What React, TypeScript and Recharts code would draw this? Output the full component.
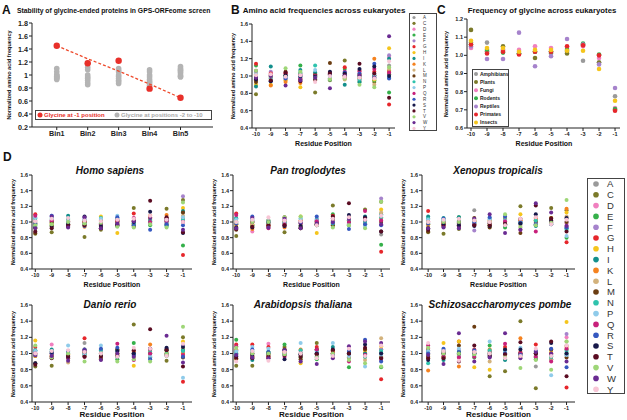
import { ScatterChart, Scatter, XAxis, YAxis } from 'recharts';

const FONT = '"Liberation Sans", Arial, sans-serif';

// residue positions and amino acids
const positions = [-10, -9, -8, -7, -6, -5, -4, -3, -2, -1];
const aminoAcids = ['A', 'C', 'D', 'E', 'F', 'G', 'H', 'I', 'K', 'L', 'M', 'N', 'P', 'Q', 'R', 'S', 'T', 'V', 'W', 'Y'];
const aaColors = ['#9a9a9a', '#7b7a2a', '#f07fbf', '#35b04a', '#a683cc', '#e6262b', '#f5c51c', '#138f8c', '#f5821f', '#d3b27c', '#6b3d12', '#2fc3ad', '#8fcbea', '#c8207b', '#3558c0', '#17184a', '#5a0c22', '#9ed677', '#6a2b92', '#f8c6d6'];

// panel A
const bins = ['Bin1', 'Bin2', 'Bin3', 'Bin4', 'Bin5'];
const glycineMinus1 = [1.45, 1.18, 1.22, 0.79, 0.65];
const glycineTrend = [1.45, 1.25, 1.06, 0.86, 0.65];
const glycineOther = [
  [1.1, 1.05, 1.0, 0.98, 0.96, 0.95, 0.93, 1.0, 0.97],
  [1.18, 1.12, 1.08, 1.0, 0.97, 0.95, 0.92, 0.88, 0.85],
  [1.1, 1.07, 1.05, 1.0, 0.98, 0.95, 0.92, 0.9, 0.87],
  [1.08, 1.05, 1.0, 0.97, 0.93, 0.9, 0.88, 0.85, 0.83],
  [1.13, 1.1, 1.08, 1.05, 1.03, 1.0, 0.98, 0.97, 1.07],
];

// panel B: rows follow aminoAcids, columns follow positions
const eukaryotes = [
  [1.05, 1.02, 1.0, 0.98, 1.03, 0.97, 1.0, 0.98, 1.0, 1.12],
  [0.79, 0.98, 1.0, 1.03, 0.81, 0.95, 1.18, 1.02, 0.93, 1.06],
  [1.0, 1.04, 0.98, 0.96, 1.02, 1.01, 0.97, 0.95, 0.99, 1.22],
  [1.12, 0.97, 1.01, 1.12, 0.99, 0.97, 1.08, 0.93, 0.95, 0.81],
  [0.96, 1.05, 0.96, 1.02, 0.97, 1.0, 1.02, 0.98, 0.97, 1.24],
  [1.14, 1.03, 1.03, 1.01, 1.02, 1.04, 1.1, 1.06, 1.05, 0.67],
  [0.9, 0.9, 0.95, 0.87, 1.0, 0.98, 0.99, 1.0, 0.96, 1.32],
  [0.88, 1.11, 0.99, 1.07, 1.04, 0.96, 0.9, 0.93, 0.98, 1.2],
  [0.95, 0.89, 0.93, 0.92, 0.98, 1.02, 0.98, 0.97, 1.2, 1.05],
  [1.02, 0.96, 1.01, 0.98, 0.95, 0.97, 0.96, 1.02, 0.9, 1.08],
  [0.93, 0.99, 1.05, 0.96, 1.01, 1.15, 1.0, 1.0, 1.01, 1.02],
  [0.99, 1.0, 1.0, 1.04, 1.12, 1.0, 1.03, 0.96, 1.0, 0.98],
  [1.04, 0.97, 0.98, 1.0, 1.07, 0.99, 1.01, 0.99, 1.02, 1.0],
  [1.06, 1.01, 1.03, 0.97, 1.0, 1.03, 1.05, 1.05, 1.08, 1.04],
  [0.97, 0.94, 0.97, 0.99, 0.99, 1.02, 1.04, 1.03, 1.14, 0.97],
  [0.96, 0.94, 1.01, 1.0, 0.99, 1.05, 1.03, 1.08, 1.11, 1.0],
  [0.98, 0.95, 1.04, 0.94, 0.96, 1.03, 1.01, 1.14, 1.03, 0.75],
  [1.06, 1.0, 1.09, 1.05, 0.98, 0.96, 0.97, 0.9, 0.87, 1.1],
  [0.98, 1.0, 0.89, 0.95, 0.98, 0.86, 1.0, 1.01, 0.98, 1.46],
  [1.01, 1.02, 0.99, 1.01, 0.93, 1.0, 0.99, 0.98, 0.97, 1.17],
];

// panel C
const groups = ['Amphibians', 'Plants', 'Fungi', 'Rodents', 'Reptiles', 'Primates', 'Insects'];
const groupColors = ['#9a9a9a', '#7b7a2a', '#f07fbf', '#35b04a', '#a683cc', '#e6262b', '#f5c51c'];
const glycineByGroup = [
  [1.07, 1.07, 1.03, 1.01, 1.02, 1.01, 1.02, 0.97, 0.96, 0.775],
  [1.14, 1.02, 1.05, 1.01, 0.985, 1.02, 1.01, 1.06, 0.96, 0.7],
  [1.04, 1.02, 1.03, 1.03, 1.05, 1.04, 1.04, 1.05, 0.985, 0.71],
  [1.06, 1.03, 1.015, 1.01, 1.02, 1.02, 1.03, 1.065, 1.005, 0.705],
  [1.05, 0.98, 0.98, 1.125, 0.94, 0.995, 1.09, 1.06, 0.95, 0.82],
  [1.06, 1.01, 1.02, 1.005, 1.02, 1.02, 1.05, 1.055, 1.0, 0.695],
  [1.08, 1.04, 1.04, 1.02, 1.03, 1.03, 1.025, 1.025, 0.925, 0.75],
];

// panel D
const homoSapiens = [
  [1.0, 1.03, 0.95, 1.0, 0.98, 1.02, 0.97, 1.0, 0.98, 1.12],
  [0.85, 0.87, 0.97, 0.81, 0.9, 0.95, 1.18, 1.03, 1.17, 1.28],
  [1.02, 1.02, 1.0, 1.05, 1.03, 1.0, 0.99, 0.98, 1.0, 1.02],
  [0.97, 0.96, 1.03, 0.97, 0.94, 1.01, 0.96, 0.96, 0.96, 0.7],
  [1.05, 1.08, 0.98, 1.03, 1.0, 1.05, 1.0, 1.04, 0.97, 1.33],
  [1.1, 1.0, 1.01, 0.99, 1.0, 1.03, 1.11, 1.06, 1.05, 0.58],
  [0.92, 0.98, 0.99, 1.01, 1.07, 0.86, 0.97, 1.04, 1.0, 1.18],
  [0.95, 1.0, 1.08, 1.02, 0.98, 0.95, 0.98, 1.01, 0.95, 1.14],
  [0.98, 0.95, 0.97, 0.94, 1.02, 1.0, 1.01, 1.08, 1.09, 1.05],
  [1.0, 0.98, 1.02, 0.97, 0.96, 0.99, 0.95, 0.99, 0.98, 1.08],
  [0.86, 1.0, 0.94, 1.0, 0.92, 1.0, 0.94, 1.0, 1.02, 1.12],
  [1.04, 1.05, 1.04, 0.98, 1.05, 1.04, 0.98, 1.02, 1.0, 1.03],
  [1.06, 1.03, 1.01, 1.04, 1.04, 1.08, 1.0, 0.98, 0.99, 1.06],
  [1.08, 1.02, 0.96, 1.0, 0.97, 1.02, 1.05, 1.0, 1.01, 1.0],
  [0.98, 1.08, 0.99, 0.95, 1.0, 1.06, 0.96, 0.9, 0.97, 0.96],
  [0.93, 0.94, 0.97, 1.07, 0.95, 0.97, 1.0, 1.13, 1.04, 0.86],
  [0.88, 0.92, 0.95, 0.96, 0.92, 0.96, 1.02, 1.27, 1.06, 0.87],
  [0.96, 0.97, 1.0, 0.98, 0.99, 0.94, 0.93, 0.97, 0.93, 1.25],
  [0.92, 1.07, 0.93, 1.06, 0.92, 0.98, 1.01, 1.05, 1.03, 0.9],
  [1.01, 1.04, 1.05, 1.02, 1.01, 1.03, 1.04, 1.08, 1.03, 1.0],
];

const panTroglodytes = [
  [1.0, 1.02, 0.98, 1.0, 0.99, 1.0, 0.97, 1.0, 0.98, 0.84],
  [0.82, 0.95, 0.97, 0.87, 0.92, 0.96, 1.21, 1.02, 1.16, 1.26],
  [1.01, 0.88, 1.0, 1.03, 1.02, 1.0, 0.99, 0.98, 1.0, 1.04],
  [0.97, 0.96, 1.02, 0.98, 0.95, 1.0, 1.1, 0.96, 0.97, 0.71],
  [1.04, 1.05, 0.97, 1.02, 1.0, 1.04, 1.0, 1.03, 0.98, 1.3],
  [1.11, 1.0, 0.95, 1.0, 1.0, 1.02, 1.08, 1.05, 1.0, 0.62],
  [0.94, 0.97, 0.99, 1.01, 1.07, 0.86, 0.98, 1.02, 1.02, 1.16],
  [1.05, 1.0, 1.02, 1.0, 0.98, 0.96, 1.0, 0.99, 1.07, 1.1],
  [0.97, 0.91, 0.96, 0.93, 1.02, 0.99, 1.02, 1.05, 1.05, 1.05],
  [0.99, 0.97, 1.02, 0.97, 0.96, 0.98, 0.95, 0.97, 0.98, 1.12],
  [0.9, 1.0, 0.94, 1.06, 0.93, 1.0, 0.96, 1.0, 1.02, 1.0],
  [1.04, 1.03, 1.0, 0.98, 1.04, 1.03, 0.98, 1.02, 1.0, 1.06],
  [1.03, 1.02, 1.01, 1.0, 1.05, 1.02, 1.0, 0.97, 0.94, 1.08],
  [1.09, 1.0, 0.92, 0.97, 0.98, 1.01, 1.04, 1.0, 1.14, 1.02],
  [0.98, 1.07, 0.99, 0.95, 1.0, 1.07, 0.99, 0.91, 0.97, 0.96],
  [0.93, 0.93, 1.0, 0.95, 0.95, 0.97, 1.04, 1.09, 1.06, 0.88],
  [0.91, 0.94, 0.96, 0.96, 0.92, 0.97, 1.07, 1.24, 1.04, 0.88],
  [1.0, 1.0, 1.0, 1.06, 1.07, 0.96, 0.93, 0.96, 0.92, 1.26],
  [0.92, 1.05, 0.93, 1.04, 0.92, 0.98, 1.0, 1.04, 1.03, 0.97],
  [1.0, 1.03, 1.06, 1.02, 1.01, 0.96, 1.04, 1.06, 1.03, 1.08],
];

const xenopusTropicalis = [
  [1.0, 1.02, 0.98, 1.15, 0.98, 1.0, 0.97, 1.0, 0.99, 1.05],
  [0.87, 0.85, 0.91, 0.97, 0.96, 0.98, 1.2, 1.02, 1.18, 1.15],
  [1.01, 1.0, 1.0, 1.02, 1.03, 1.0, 0.99, 0.98, 1.0, 0.98],
  [0.97, 0.96, 1.06, 0.98, 0.95, 0.93, 1.0, 0.96, 0.97, 0.8],
  [1.04, 1.0, 0.97, 0.89, 1.0, 1.04, 1.0, 1.03, 0.98, 1.0],
  [1.14, 0.98, 0.98, 1.0, 1.0, 1.03, 1.02, 1.05, 1.0, 0.74],
  [0.94, 0.97, 0.99, 1.01, 0.97, 1.0, 1.1, 1.02, 1.02, 1.12],
  [1.07, 1.05, 1.06, 1.0, 0.98, 0.96, 1.0, 0.95, 1.04, 0.92],
  [0.97, 0.96, 0.96, 1.02, 1.02, 1.05, 1.02, 1.05, 1.05, 1.17],
  [0.99, 0.97, 1.02, 0.97, 0.94, 0.98, 0.95, 0.97, 0.98, 1.07],
  [0.88, 1.0, 0.94, 1.05, 0.93, 1.0, 0.86, 1.0, 1.05, 1.0],
  [1.04, 1.03, 1.0, 0.98, 1.04, 1.03, 0.98, 1.02, 1.0, 0.9],
  [1.03, 1.02, 1.01, 1.0, 1.03, 1.02, 1.0, 0.97, 0.98, 0.82],
  [1.0, 0.96, 0.95, 0.97, 0.98, 1.01, 0.9, 0.88, 1.0, 0.95],
  [0.98, 1.04, 0.99, 1.0, 1.06, 1.07, 0.99, 0.97, 0.97, 0.93],
  [0.92, 0.97, 0.96, 0.95, 0.95, 0.97, 0.98, 1.1, 1.02, 1.05],
  [0.9, 0.94, 1.0, 0.96, 0.96, 0.97, 1.04, 1.21, 1.04, 0.88],
  [1.0, 1.0, 1.0, 1.03, 1.0, 1.1, 0.93, 0.96, 0.99, 1.28],
  [0.92, 0.93, 0.92, 1.04, 1.1, 0.86, 0.9, 1.24, 1.12, 0.95],
  [1.0, 1.03, 1.04, 1.02, 1.0, 0.96, 1.04, 1.06, 0.97, 1.03],
];

const danioRerio = [
  [1.0, 1.02, 0.98, 1.13, 0.98, 1.0, 0.97, 1.0, 0.99, 1.02],
  [0.84, 0.85, 0.96, 0.97, 0.96, 0.98, 1.36, 1.02, 0.91, 1.2],
  [1.01, 1.11, 1.0, 1.02, 1.03, 1.0, 0.99, 0.98, 1.0, 1.0],
  [0.97, 0.96, 1.02, 0.98, 0.95, 0.93, 1.13, 0.96, 0.97, 1.06],
  [1.04, 1.0, 0.97, 1.0, 1.0, 1.04, 1.0, 1.03, 0.98, 1.1],
  [1.08, 0.98, 0.98, 1.19, 1.0, 1.03, 1.02, 1.05, 1.0, 0.65],
  [1.16, 0.97, 0.99, 1.01, 0.97, 1.0, 0.85, 1.02, 1.02, 1.15],
  [1.03, 1.05, 1.02, 1.0, 0.98, 0.96, 1.0, 0.95, 1.04, 1.04],
  [0.97, 0.96, 0.96, 1.02, 1.05, 1.05, 1.02, 1.11, 1.05, 1.0],
  [0.99, 0.97, 0.89, 0.97, 0.94, 0.98, 0.95, 0.97, 0.98, 1.07],
  [0.88, 1.0, 0.94, 1.05, 0.93, 1.05, 1.0, 1.0, 1.05, 0.95],
  [1.04, 1.03, 1.0, 0.98, 1.04, 1.03, 0.98, 1.02, 1.0, 1.03],
  [1.03, 1.02, 1.1, 1.0, 1.1, 1.02, 1.0, 0.97, 0.98, 0.7],
  [1.0, 0.96, 0.95, 0.96, 0.98, 1.12, 0.92, 1.0, 0.98, 0.98],
  [0.98, 1.0, 1.03, 1.05, 1.06, 1.07, 0.98, 0.93, 1.06, 0.96],
  [0.88, 1.02, 0.96, 1.02, 0.98, 1.03, 1.0, 1.06, 1.07, 1.08],
  [0.86, 0.94, 0.97, 0.96, 0.96, 0.97, 1.04, 1.3, 1.04, 0.84],
  [1.1, 0.95, 1.0, 0.9, 1.0, 0.9, 0.93, 0.9, 0.99, 1.33],
  [0.98, 0.97, 0.91, 1.04, 0.92, 1.0, 0.96, 1.06, 1.22, 0.89],
  [1.0, 1.03, 1.04, 1.02, 1.0, 0.96, 1.07, 1.06, 0.97, 1.12],
];

const arabidopsisThaliana = [
  [1.0, 1.02, 0.98, 1.0, 0.98, 1.0, 0.97, 1.0, 0.99, 1.02],
  [0.85, 0.85, 0.96, 1.08, 0.96, 1.13, 1.0, 1.02, 0.96, 1.05],
  [1.01, 1.0, 1.12, 1.02, 1.03, 1.0, 0.99, 0.98, 1.0, 1.0],
  [1.17, 0.96, 1.02, 1.11, 0.95, 0.93, 1.0, 0.83, 0.97, 0.83],
  [1.04, 1.0, 0.97, 1.0, 1.0, 1.04, 1.0, 1.03, 0.98, 1.05],
  [1.11, 1.11, 1.08, 1.05, 1.0, 1.08, 1.02, 0.98, 1.0, 0.68],
  [0.93, 0.97, 0.99, 1.01, 0.88, 1.0, 0.97, 1.02, 1.02, 1.09],
  [1.03, 0.92, 1.02, 1.0, 0.98, 0.96, 1.08, 0.95, 1.0, 1.0],
  [1.05, 0.96, 0.96, 1.02, 1.05, 1.05, 1.02, 0.96, 1.05, 0.96],
  [0.99, 0.97, 0.99, 0.99, 0.9, 0.98, 0.95, 0.97, 0.92, 1.19],
  [0.96, 1.0, 0.94, 1.05, 0.93, 1.05, 1.0, 1.0, 1.05, 0.95],
  [1.0, 1.03, 1.0, 0.98, 1.04, 1.03, 0.98, 1.02, 0.96, 1.03],
  [1.03, 1.08, 1.06, 1.0, 1.13, 1.02, 1.13, 0.97, 0.84, 0.98],
  [1.09, 0.96, 0.95, 0.96, 0.98, 1.05, 1.0, 0.9, 0.98, 0.92],
  [0.98, 1.05, 1.02, 1.04, 1.0, 1.0, 0.98, 1.03, 1.17, 0.9],
  [0.96, 0.98, 1.0, 0.93, 0.99, 1.0, 1.05, 1.0, 1.11, 1.0],
  [0.94, 0.94, 0.97, 0.98, 0.96, 0.99, 1.04, 1.0, 1.07, 0.94],
  [1.07, 1.0, 1.0, 0.99, 1.0, 0.95, 1.0, 0.92, 0.88, 0.84],
  [0.98, 0.95, 0.94, 1.04, 0.9, 0.87, 0.94, 1.09, 1.15, 1.13],
  [0.9, 1.03, 0.91, 1.02, 1.0, 0.94, 0.97, 1.06, 0.97, 1.1],
];

const schizoPombe = [
  [1.0, 1.02, 0.98, 1.0, 0.98, 1.0, 0.97, 0.84, 0.99, 1.1],
  [0.97, 0.95, 0.96, 1.02, 0.72, 0.78, 1.4, 0.57, 0.96, 1.05],
  [1.01, 1.0, 1.05, 1.02, 1.03, 1.0, 0.99, 0.98, 1.0, 1.2],
  [1.03, 0.96, 1.02, 0.95, 1.1, 0.93, 1.0, 0.93, 0.97, 1.0],
  [1.04, 1.0, 0.97, 1.0, 1.0, 1.04, 1.0, 1.03, 0.98, 1.24],
  [1.06, 1.03, 1.15, 1.05, 1.0, 1.08, 1.02, 1.11, 1.0, 0.58],
  [0.95, 1.13, 1.15, 0.83, 0.8, 1.0, 0.97, 1.02, 1.02, 1.39],
  [1.03, 0.92, 1.02, 1.0, 0.98, 0.92, 1.0, 0.95, 0.93, 0.98],
  [0.79, 0.96, 0.84, 1.02, 1.05, 1.05, 1.19, 0.96, 1.05, 1.08],
  [0.99, 0.97, 0.99, 0.99, 0.9, 0.98, 0.95, 0.97, 0.92, 1.15],
  [0.96, 1.0, 1.1, 1.33, 1.02, 1.0, 1.0, 1.0, 1.05, 0.95],
  [0.88, 1.03, 1.0, 0.98, 1.04, 1.03, 0.98, 1.02, 0.96, 1.03],
  [1.03, 1.05, 1.06, 1.0, 1.15, 1.02, 1.07, 0.97, 0.73, 0.98],
  [1.1, 0.96, 0.95, 0.96, 0.98, 1.12, 1.0, 0.96, 0.9, 1.06],
  [1.0, 1.06, 1.02, 1.04, 1.0, 1.0, 0.98, 1.03, 1.06, 0.83],
  [0.92, 1.0, 1.0, 1.0, 0.97, 1.05, 1.05, 1.0, 1.13, 1.0],
  [0.94, 0.94, 0.9, 1.1, 0.96, 0.99, 1.14, 1.0, 1.15, 0.72],
  [1.07, 1.0, 1.0, 0.99, 1.0, 0.95, 0.82, 0.92, 0.8, 1.15],
  [0.98, 0.87, 1.25, 0.9, 0.95, 1.25, 0.94, 1.02, 1.0, 0.9],
  [1.13, 1.03, 0.91, 1.02, 1.0, 0.94, 0.97, 1.06, 0.97, 1.1],
];

const yTicksWide = [0.4, 0.6, 0.8, 1.0, 1.2, 1.4, 1.6];
const yTicksA = [0.2, 0.4, 0.6, 0.8, 1.0, 1.2, 1.4, 1.6, 1.8];
const yTicksC = [0.6, 0.7, 0.8, 0.9, 1.0, 1.1, 1.2];

const toPoints = (row: number[], xs: number[]) => row.map((y, i) => ({ x: xs[i], y }));

const dot = (color: string, r: number) => (p: any) => <circle cx={p.cx} cy={p.cy} r={r} fill={color} />;

type Box = { x0: number; y0: number; x1: number; y1: number };

// plot area placed at exact page pixels; axes hang outside it
function Plot({ box, xDomain, xTicks, yDomain, yTicks, fontSize, xFormat, yFormat, children }: any) {
  const yw = 24;
  const top = 6;
  const xh = 14;
  const w = box.x1 - box.x0 + yw + 4;
  const h = box.y1 - box.y0 + top + xh;
  const tick = { fontSize, fontWeight: 700, fill: '#222', fontFamily: FONT };
  return (
    <div style={{ position: 'absolute', left: box.x0 - yw, top: box.y0 - top }}>
      <ScatterChart width={w} height={h} margin={{ top, right: 4, bottom: 0, left: 0 }}>
        <XAxis
          type="number"
          dataKey="x"
          domain={xDomain}
          ticks={xTicks}
          interval={0}
          tickFormatter={xFormat}
          allowDataOverflow
          height={xh}
          tick={tick}
          tickSize={3}
          tickMargin={1}
          axisLine={{ stroke: '#222' }}
          tickLine={{ stroke: '#222' }}
        />
        <YAxis
          type="number"
          dataKey="y"
          domain={yDomain}
          ticks={yTicks}
          interval={0}
          tickFormatter={yFormat}
          allowDataOverflow
          width={yw}
          tick={tick}
          tickSize={3}
          tickMargin={1}
          axisLine={{ stroke: '#222' }}
          tickLine={{ stroke: '#222' }}
        />
        {children}
      </ScatterChart>
    </div>
  );
}

function Txt({ x, y, size, children, color = '#111', italic = false, weight = 700, anchor = 'center', rotate = false }: any) {
  const tx = anchor === 'center' ? '-50%' : '0';
  return (
    <div
      style={{
        position: 'absolute',
        left: x,
        top: y,
        fontFamily: FONT,
        fontSize: size,
        fontWeight: weight,
        fontStyle: italic ? 'italic' : 'normal',
        color,
        whiteSpace: 'nowrap',
        lineHeight: 1,
        transform: `translate(${tx}, -50%)${rotate ? ' rotate(-90deg)' : ''}`,
        transformOrigin: anchor === 'center' ? '50% 50%' : '0 50%',
      }}
    >
      {children}
    </div>
  );
}

function AminoPanel({ box, rows, xDomain, title, titleX, titleY, labelY, bigLabel }: any) {
  return (
    <>
      <Plot box={box} xDomain={xDomain} xTicks={positions} yDomain={[0.4, 1.6]} yTicks={yTicksWide} fontSize={5.5} yFormat={(v: number) => v.toFixed(1)}>
        {rows.map((row: number[], i: number) => (
          <Scatter key={aminoAcids[i]} data={toPoints(row, positions)} shape={dot(aaColors[i], 2)} isAnimationActive={false} />
        ))}
      </Plot>
      {title && <Txt x={titleX} y={titleY} size={10} italic>{title}</Txt>}
      <Txt x={box.x0 - 18} y={(box.y0 + box.y1) / 2} size={5.4} rotate>Normalized amino acid frequency</Txt>
      <Txt x={(box.x0 + box.x1) / 2} y={labelY} size={bigLabel ? 8 : 7}>Residue Position</Txt>
    </>
  );
}

const boxA: Box = { x0: 32, y0: 23, x1: 213, y1: 127 };
const boxB: Box = { x0: 252, y0: 24, x1: 395, y1: 128 };
const boxC: Box = { x0: 467, y0: 19, x1: 620, y1: 128 };

const speciesPanels = [
  { title: 'Homo sapiens', rows: homoSapiens, box: { x0: 32, y0: 175, x1: 192, y1: 269 }, dom: [-10.2, -0.45], tx: 110, ty: 171, ly: 284 },
  { title: 'Pan troglodytes', rows: panTroglodytes, box: { x0: 233, y0: 175, x1: 390, y1: 269 }, dom: [-10.2, -0.45], tx: 308, ty: 171, ly: 284 },
  { title: 'Xenopus tropicalis', rows: xenopusTropicalis, box: { x0: 422, y0: 175, x1: 575, y1: 269 }, dom: [-10.4, -0.45], tx: 498, ty: 171, ly: 284 },
  { title: 'Danio rerio', rows: danioRerio, box: { x0: 32, y0: 305, x1: 192, y1: 402 }, dom: [-10.2, -0.45], tx: 110, ty: 305, ly: 415 },
  { title: 'Arabidopsis thaliana', rows: arabidopsisThaliana, box: { x0: 233, y0: 305, x1: 390, y1: 402 }, dom: [-10.2, -0.45], tx: 303, ty: 305, ly: 415 },
  { title: 'Schizosaccharomyces pombe', rows: schizoPombe, box: { x0: 422, y0: 305, x1: 575, y1: 402 }, dom: [-10.4, -0.45], tx: 500, ty: 305, ly: 415 },
];

export default function App() {
  const binX = bins.map((_, i) => i + 1);
  return (
    <div style={{ position: 'absolute', left: 0, top: 0, width: 627, height: 420, background: '#fff', overflow: 'hidden' }}>
      {/* A */}
      <Txt x={2} y={10} size={12} anchor="left">A</Txt>
      <Txt x={17} y={11} size={6.8} anchor="left">Stability of glycine-ended proteins in GPS-ORFeome screen</Txt>
      <Plot
        box={boxA}
        xDomain={[0.2, 6.05]}
        xTicks={binX}
        yDomain={[0.2, 1.8]}
        yTicks={yTicksA}
        fontSize={7.2}
        xFormat={(v: number) => bins[v - 1]}
        yFormat={(v: number) => String(Number(v.toFixed(1)))}
      >
        {glycineOther.map((vals, i) => (
          <Scatter key={bins[i]} data={vals.map((y) => ({ x: binX[i], y }))} shape={dot('#b4b4b4', 2.8)} isAnimationActive={false} />
        ))}
        <Scatter
          data={toPoints(glycineTrend, binX)}
          line={{ stroke: '#ee4a2c', strokeWidth: 1.3, strokeDasharray: '3 2' }}
          shape={() => <g />}
          isAnimationActive={false}
        />
        <Scatter data={toPoints(glycineMinus1, binX)} shape={dot('#e8302a', 3.2)} isAnimationActive={false} />
      </Plot>
      <Txt x={10} y={75} size={5.6} rotate>Normalized amino acid frequency</Txt>
      <div style={{ position: 'absolute', left: 35, top: 110, width: 177, height: 10, border: '1px solid #444', boxSizing: 'border-box' }} />
      <svg style={{ position: 'absolute', left: 0, top: 0 }} width={220} height={130}>
        <circle cx={40} cy={115} r={2.5} fill="#e8302a" />
        <circle cx={117} cy={115} r={2.5} fill="#b4b4b4" />
      </svg>
      <Txt x={44} y={115} size={6} color="#e8302a" anchor="left">Glycine at -1 position</Txt>
      <Txt x={121} y={115} size={6} color="#aaaaaa" anchor="left">Glycine at positions -2 to -10</Txt>

      {/* B */}
      <Txt x={231} y={10} size={12} anchor="left">B</Txt>
      <Txt x={324} y={11} size={8}>Amino acid frequencies across eukaryotes</Txt>
      <AminoPanel box={boxB} rows={eukaryotes} xDomain={[-10.27, -0.6]} labelY={143} />
      <div style={{ position: 'absolute', left: 409, top: 13, width: 28, height: 118, border: '1px solid #444', boxSizing: 'border-box' }} />
      <svg style={{ position: 'absolute', left: 409, top: 13 }} width={28} height={118}>
        {aminoAcids.map((aa, i) => (
          <g key={aa}>
            <circle cx={5} cy={4.5 + i * 5.84} r={1.6} fill={aaColors[i]} />
            <text x={14} y={4.5 + i * 5.84} dy="0.35em" fontSize={4.5} fontFamily={FONT} fill="#333">{aa}</text>
          </g>
        ))}
      </svg>

      {/* C */}
      <Txt x={437} y={10} size={12} anchor="left">C</Txt>
      <Txt x={542} y={11} size={7.8}>Frequency of glycine across eukaryotes</Txt>
      <Plot box={boxC} xDomain={[-10.25, -0.69]} xTicks={positions} yDomain={[0.6, 1.2]} yTicks={yTicksC} fontSize={5.5} yFormat={(v: number) => v.toFixed(1)}>
        {glycineByGroup.map((row, i) => (
          <Scatter key={groups[i]} data={toPoints(row, positions)} shape={dot(groupColors[i], 2.3)} isAnimationActive={false} />
        ))}
      </Plot>
      <Txt x={447} y={74} size={5.4} rotate>Normalized amino acid frequency</Txt>
      <Txt x={544} y={143} size={7}>Residue Position</Txt>
      <div style={{ position: 'absolute', left: 472, top: 69, width: 37, height: 58, border: '1px solid #444', boxSizing: 'border-box', background: '#fff' }} />
      <svg style={{ position: 'absolute', left: 472, top: 69 }} width={37} height={58}>
        {groups.map((g, i) => (
          <g key={g}>
            <circle cx={4} cy={5 + i * 8.1} r={2} fill={groupColors[i]} />
            <text x={8} y={5 + i * 8.1} dy="0.35em" fontSize={5} fontWeight={700} fontFamily={FONT} fill="#222">{g}</text>
          </g>
        ))}
      </svg>

      {/* D */}
      <Txt x={3} y={157} size={12} anchor="left">D</Txt>
      {speciesPanels.map((p) => (
        <AminoPanel key={p.title} box={p.box} rows={p.rows} xDomain={p.dom} title={p.title} titleX={p.tx} titleY={p.ty} labelY={p.ly} bigLabel={p.ly > 400} />
      ))}
      <div style={{ position: 'absolute', left: 587, top: 178, width: 38, height: 216, border: '1px solid #444', boxSizing: 'border-box' }} />
      <svg style={{ position: 'absolute', left: 587, top: 178 }} width={38} height={216}>
        {aminoAcids.map((aa, i) => (
          <g key={aa}>
            <circle cx={9} cy={6 + i * 10.8} r={2.8} fill={aaColors[i]} />
            <text x={20} y={6 + i * 10.8} dy="0.35em" fontSize={9.5} fontFamily={FONT} fill="#333">{aa}</text>
          </g>
        ))}
      </svg>
    </div>
  );
}
